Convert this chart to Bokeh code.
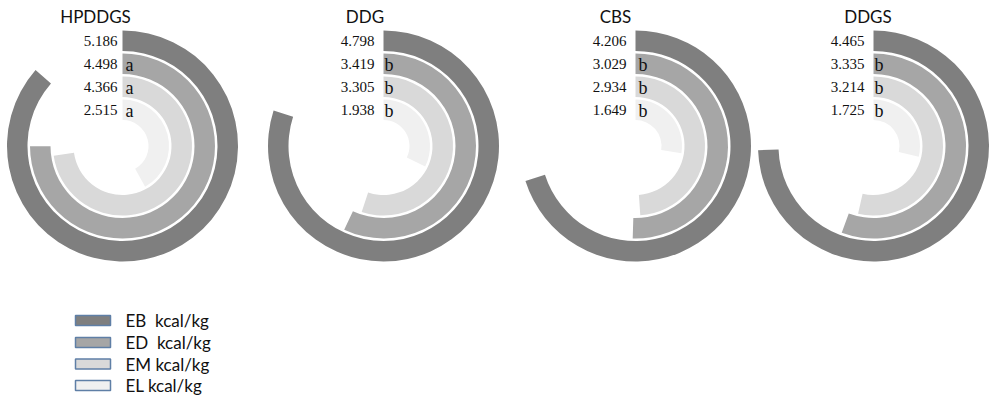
import numpy as np
from bokeh.plotting import figure
from bokeh.models import Range1d, ColumnDataSource
from bokeh.core.properties import value
from bokeh.embed import file_html
from bokeh.resources import INLINE

# ---------------- data ----------------
feeds = ["HPDDGS", "DDG", "CBS", "DDGS"]
EB = [5.186, 4.798, 4.206, 4.465]
ED = [4.498, 3.419, 3.029, 3.335]
EM = [4.366, 3.305, 2.934, 3.214]
EL = [2.515, 1.938, 1.649, 1.725]
letters_ED = ["a", "b", "b", "b"]
letters_EM = ["a", "b", "b", "b"]
letters_EL = ["a", "b", "b", "b"]
series_names = ["EB", "ED", "EM", "EL"]
legend_labels = ["EB \u00a0kcal/kg", "ED \u00a0kcal/kg", "EM kcal/kg", "EL kcal/kg"]
full_circle = 6.0  # value that corresponds to a full 360 degree turn

# ---------------- layout / style ----------------
W, H = 992, 402
colors = ["#7f7f7f", "#a6a6a6", "#d9d9d9", "#f0f0f0"]


def X(xi):
    return xi


def Y(yi):
    return H - yi


centers_x = [122, 383, 635, 873]
center_y = 145.5
ring_outer = [115.5, 92.5, 69.5, 46.5]
ring_thick = 20.5
title_pos = [(95, 16), (364.5, 16), (615, 16), (867.5, 16)]
label_dx = [-5, -9, -9, -9]
letter_dx = [3, 1, 3, 1]

p = figure(width=W, height=H, output_backend="svg", toolbar_location=None,
           x_range=Range1d(0, W), y_range=Range1d(0, H),
           min_border=0, min_border_left=0, min_border_right=0,
           min_border_top=0, min_border_bottom=0)
p.axis.visible = False
p.grid.visible = False
p.outline_line_color = None
p.background_fill_color = "white"
p.border_fill_color = "white"

series = [EB, ED, EM, EL]
letters = [None, letters_ED, letters_EM, letters_EL]

for k, (vals, col) in enumerate(zip(series, colors)):
    xs = [X(cx) for cx in centers_x]
    ys = [Y(center_y)] * len(feeds)
    theta = [v / full_circle * 2 * np.pi for v in vals]
    src = ColumnDataSource(dict(
        x=xs, y=ys,
        start=[np.pi / 2 - t for t in theta],
        end=[np.pi / 2] * len(feeds),
    ))
    p.annular_wedge(x="x", y="y", inner_radius=ring_outer[k] - ring_thick,
                    outer_radius=ring_outer[k], start_angle="start",
                    end_angle="end", direction="anticlock",
                    fill_color=col, line_color=None, source=src)

# value labels and letters
for k, vals in enumerate(series):
    ymid = Y(center_y - ring_outer[k] + ring_thick / 2)
    lab = ColumnDataSource(dict(
        x=[X(cx) + dx for cx, dx in zip(centers_x, label_dx)],
        y=[ymid] * len(feeds),
        t=[f"{v:.3f}" for v in vals],
    ))
    p.text(x="x", y="y", text="t", source=lab, text_align="right",
           text_baseline="middle", text_font=value("Liberation Serif"),
           text_font_size="15px", text_color="#111111")
    if letters[k] is not None:
        let = ColumnDataSource(dict(
            x=[X(cx) + dx for cx, dx in zip(centers_x, letter_dx)],
            y=[ymid - 1] * len(feeds),
            t=letters[k],
        ))
        p.text(x="x", y="y", text="t", source=let, text_align="left",
               text_baseline="middle", text_font=value("Liberation Serif"),
               text_font_size="18px", text_color="#111111")

# titles
tsrc = ColumnDataSource(dict(
    x=[X(tx) for tx, ty in title_pos],
    y=[Y(ty) for tx, ty in title_pos],
    t=feeds,
))
p.text(x="x", y="y", text="t", source=tsrc, text_align="center",
       text_baseline="middle", text_font=value("Lato"),
       text_font_size="17px", text_color="#111111")

# legend
leg_y = [320, 342, 363.5, 385]
lsrc = ColumnDataSource(dict(
    x=[X(92.5)] * 4, y=[Y(v) for v in leg_y], c=colors,
    tx=[X(125)] * 4, t=legend_labels,
))
p.rect(x="x", y="y", width=35, height=10, fill_color="c",
       line_color="#5f7fa6", line_width=1.5, source=lsrc)
p.text(x="tx", y="y", text="t", source=lsrc, text_align="left",
       text_baseline="middle", text_font=value("Lato"),
       text_font_size="17px", text_color="#111111")

open("out.html", "w").write(file_html(p, INLINE))
